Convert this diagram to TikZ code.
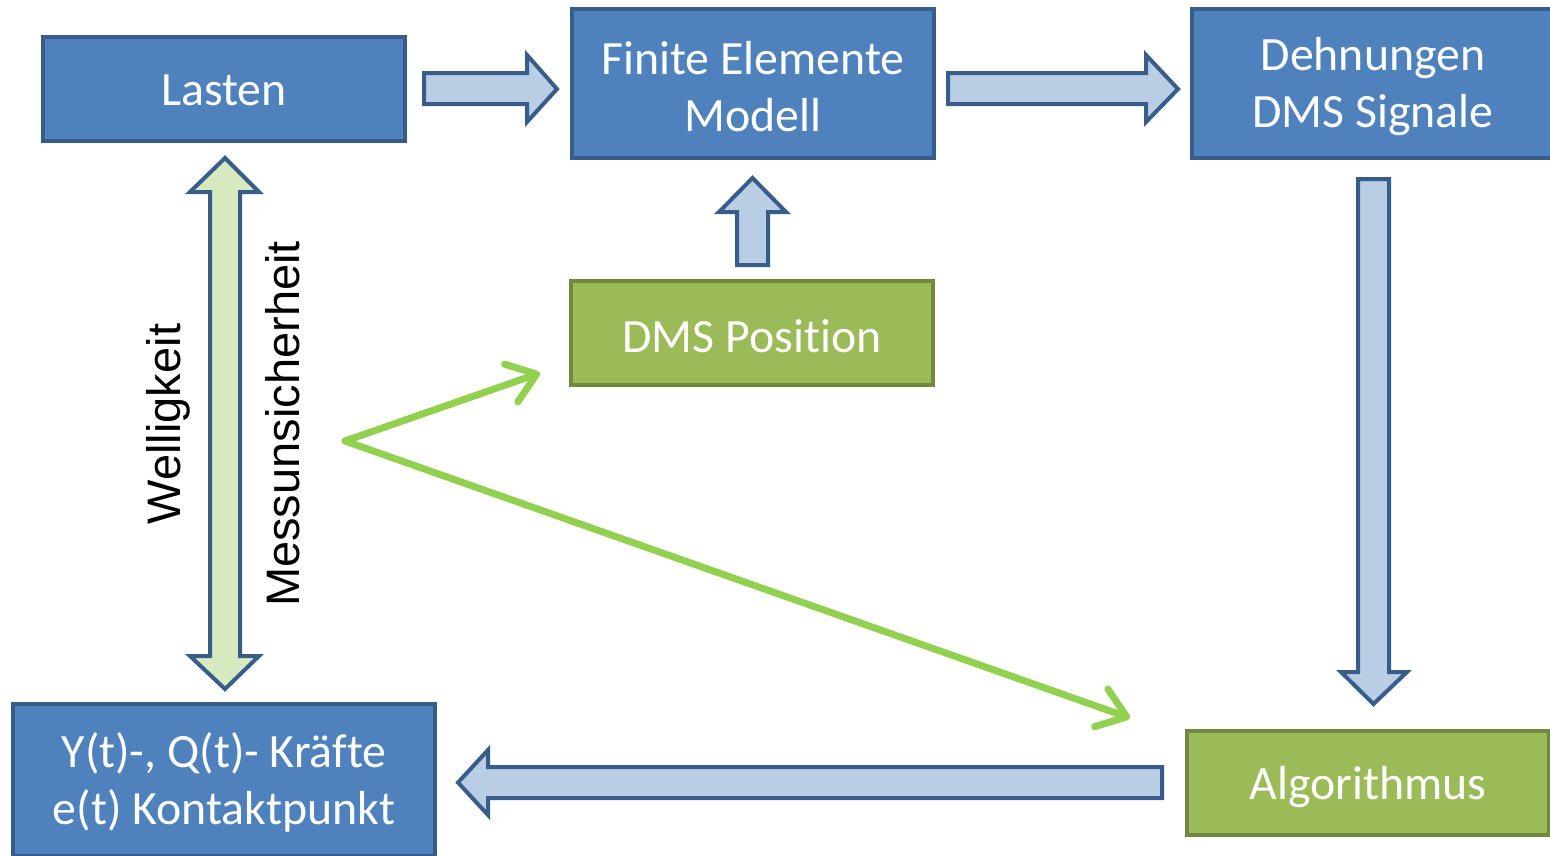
\documentclass[tikz,border=0pt]{standalone}
\usepackage{fontspec}
\setmainfont{Carlito}[RawFeature={-liga;-clig;-dlig}]
\newfontfamily\arialfont{Liberation Sans}
\usetikzlibrary{arrows.meta}
\definecolor{boxblue}{HTML}{4F81BD}
\definecolor{edgeblue}{HTML}{385D8A}
\definecolor{arrowfill}{HTML}{B9CDE5}
\definecolor{boxgreen}{HTML}{9BBB59}
\definecolor{edgegreen}{HTML}{71893F}
\definecolor{dblfill}{HTML}{D7E9BE}
\definecolor{linegreen}{HTML}{92D050}
\tikzset{
  boxbase/.style={draw, line width=4pt, inner sep=0pt},
  bluebox/.style={boxbase, fill=boxblue, draw=edgeblue},
  greenbox/.style={boxbase, fill=boxgreen, draw=edgegreen},
  boxtext/.style={text=white, align=center, inner sep=0pt,
    font=\fontsize{47.8}{57}\selectfont},
  blockarrow/.style={draw=edgeblue, fill=arrowfill, line width=4pt, line join=miter},
  greenline/.style={draw=linegreen, line width=7pt, line cap=round, line join=round,
    -{Straight Barb[length=27pt,width=40pt,round]}},
  vlabel/.style={rotate=90, font=\arialfont\fontsize{47}{56}\selectfont, inner sep=0pt}
}
\begin{document}
\begin{tikzpicture}[x=1pt,y=-1pt]
\useasboundingbox (0,0) rectangle (1550,855);
\clip (0,0) rectangle (1550,855);
\fill[white] (0,0) rectangle (1550,855);

% boxes
\node[bluebox, minimum width=362, minimum height=104] (lasten) at (224,89) {};
\node[bluebox, minimum width=362, minimum height=149] (fem) at (753,83.5) {};
\node[bluebox, minimum width=362, minimum height=149] (dehn) at (1373,83.5) {};
\node[greenbox, minimum width=362, minimum height=104] (dms) at (752,333) {};
\node[bluebox, minimum width=422, minimum height=152] (kraefte) at (224,780) {};
\node[greenbox, minimum width=362, minimum height=104] (algo) at (1368,783) {};

% box texts
\node[boxtext] (lastentext) at ([yshift=-1.5pt]lasten.center) {Lasten};
\node[boxtext] (femtext) at ([yshift=-3.5pt]fem.center) {Finite Elemente\\Modell};
\node[boxtext] (dehntext) at ([yshift=-3.5pt]dehn.center) {Dehnungen\\DMS Signale};
\node[boxtext] (dmstext) at ([yshift=-3pt]dms.center) {DMS Posit\kern0pt ion};
\node[boxtext] (kraeftetext) at ([yshift=-2.5pt]kraefte.center) {Y(t)-, Q(t)- Kräf\kern0pt te\\e(t) Kontaktpunkt};
\node[boxtext] (algotext) at ([yshift=-3.5pt]algo.center) {Algorithmus};

% block arrows
% Lasten -> FEM
\draw[blockarrow] (424,73) -- (527,73) -- (527,55) -- (557,89) -- (527,122) -- (527,104) -- (424,104) -- cycle;
% FEM -> Dehnungen
\draw[blockarrow] (948,73) -- (1146,73) -- (1146,55) -- (1178,89) -- (1146,122) -- (1146,104) -- (948,104) -- cycle;
% DMS Position -> FEM
\draw[blockarrow] (737,265) -- (737,212) -- (719,212) -- (752.5,178) -- (786,212) -- (768,212) -- (768,265) -- cycle;
% Dehnungen -> Algorithmus
\draw[blockarrow] (1358,179) -- (1389,179) -- (1389,672) -- (1407,672) -- (1373.5,704) -- (1341,672) -- (1358,672) -- cycle;
% Algorithmus -> Kraefte
\draw[blockarrow] (1162,767) -- (488,767) -- (488,750) -- (458,782.5) -- (488,815) -- (488,798) -- (1162,798) -- cycle;
% double arrow Lasten <-> Kraefte
\draw[blockarrow, fill=dblfill] (225,158) -- (259,192) -- (240,192) -- (240,656) -- (259,656) -- (225,689) -- (190,656) -- (210,656) -- (210,192) -- (190,192) -- cycle;

% vertical labels
\node[vlabel] (well) at (168,424) {Welligkeit};
\node[vlabel] (mess) at (283,424) {Messunsicherheit};

% green lines
\coordinate (v) at (345,441);
\coordinate (tipdms) at (540,373);
\coordinate (tipalgo) at (1130,718);
\draw[greenline] (v) -- (tipdms);
\draw[greenline] (v) -- (tipalgo);
\end{tikzpicture}
\end{document}
